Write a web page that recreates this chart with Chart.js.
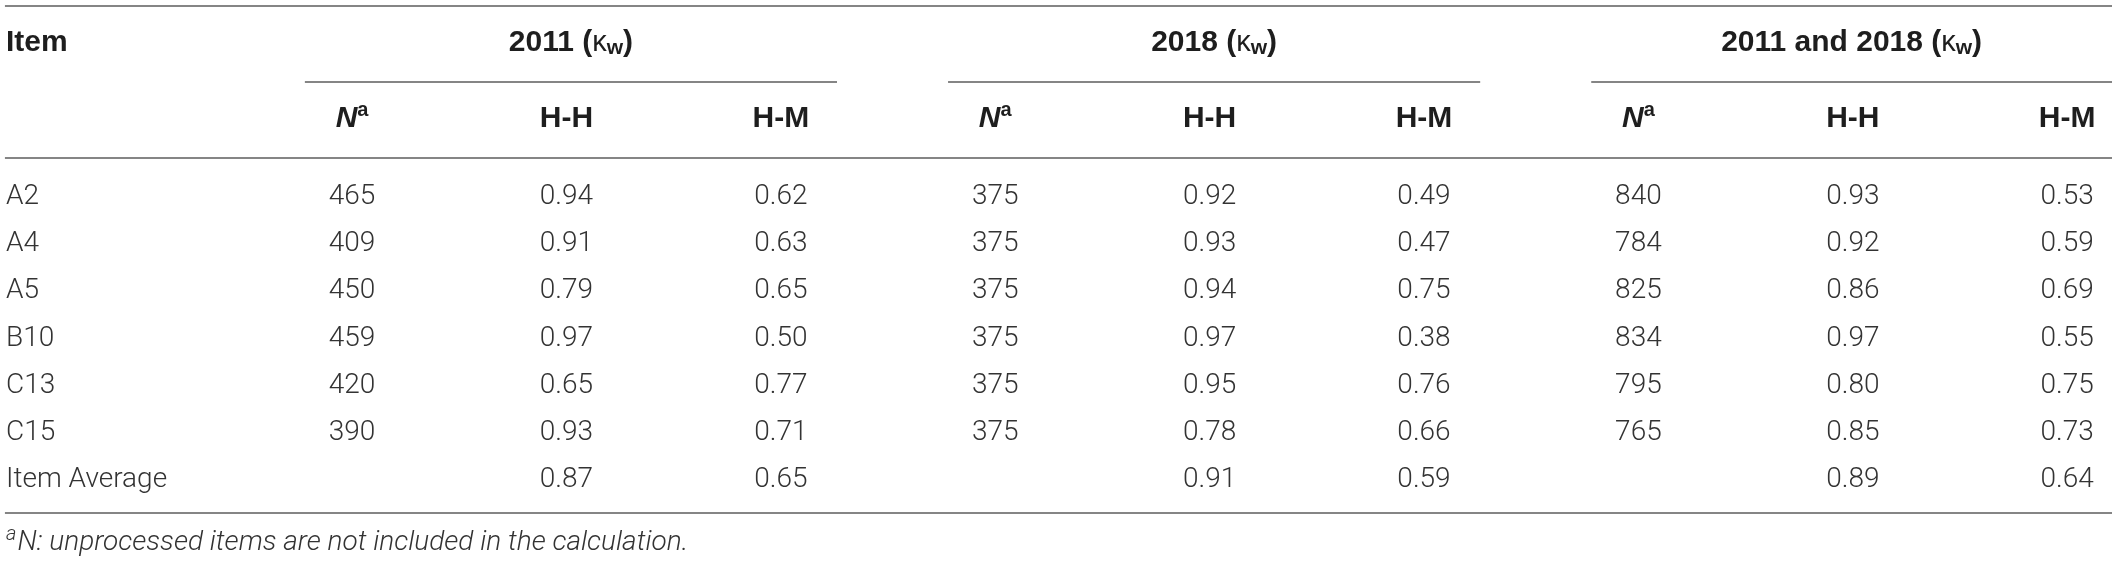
<!DOCTYPE html>
<html>
<head>
<meta charset="utf-8">
<script src="https://cdn.jsdelivr.net/npm/chart.js@4.4.1/dist/chart.umd.min.js"></script>
<style>
html,body{margin:0;padding:0;background:#fff;}
#wrap{width:2118px;height:563px;}
</style>
</head>
<body>
<div id="wrap"><canvas id="c" width="2118" height="563"></canvas></div>
<script>
// ---- data ----
const items   = ['A2','A4','A5','B10','C13','C15','Item Average'];
const n2011   = [465,409,450,459,420,390,null];
const hh2011  = [0.94,0.91,0.79,0.97,0.65,0.93,0.87];
const hm2011  = [0.62,0.63,0.65,0.50,0.77,0.71,0.65];
const n2018   = [375,375,375,375,375,375,null];
const hh2018  = [0.92,0.93,0.94,0.97,0.95,0.78,0.91];
const hm2018  = [0.49,0.47,0.75,0.38,0.76,0.66,0.59];
const nBoth   = [840,784,825,834,795,765,null];
const hhBoth  = [0.93,0.92,0.86,0.97,0.80,0.85,0.89];
const hmBoth  = [0.53,0.59,0.69,0.55,0.75,0.73,0.64];
const groupLabels = ['2011','2018','2011 and 2018'];
const subLabels   = ['N','H-H','H-M'];
const itemHeader  = 'Item';
const footnoteText = 'N: unprocessed items are not included in the calculation.';

// ---- layout (scale units: x = column index, y = row index) ----
const ITEM_X = -1.614;
const ROW_TOP_RULE = -4.047, ROW_GROUP = -3.27, ROW_GROUP_RULE = -2.436,
      ROW_SUB = -1.66, ROW_HEAD_RULE = -0.826, ROW_BOTTOM_RULE = 6.69, ROW_FOOT = 7.33;
const RULE_X0 = -1.619, RULE_X1 = 8.209;
const GROUP_L = -0.22, GROUP_R = 2.262;

const FAM_BODY = 'Roboto, "Liberation Sans", Arial, sans-serif';
const FAM_HEAD = '"Liberation Sans", Arial, sans-serif';
const BODY_FONT = '300 28px ' + FAM_BODY;
const BOLD = 'bold 30px ' + FAM_HEAD;
const BODY_COLOR = '#333333';
const HEAD_COLOR = '#1e1e1e';
const RULE_COLOR = '#858585';

const columns = [n2011,hh2011,hm2011,n2018,hh2018,hm2018,nBoth,hhBoth,hmBoth];
const datasets = [{
  label:'Item',
  data: items.map((t,i)=>({x:ITEM_X,y:i,txt:t})),
  align:'left', pointRadius:0
}];
columns.forEach((col,k)=>{
  datasets.push({
    label:'col'+k,
    data: col.map((v,i)=>({x:k,y:i,txt: v==null ? '' : (k%3===0 ? String(v) : v.toFixed(2))})),
    align:'center', pointRadius:0
  });
});

const tablePlugin = {
  id:'table',
  afterDatasetsDraw(chart){
    const ctx = chart.ctx, xs = chart.scales.x, ys = chart.scales.y;
    ctx.save();
    // rules
    ctx.strokeStyle = RULE_COLOR; ctx.lineWidth = 2;
    const hline = (x0,x1,r)=>{
      const y = Math.round(ys.getPixelForValue(r));
      ctx.beginPath(); ctx.moveTo(xs.getPixelForValue(x0),y); ctx.lineTo(xs.getPixelForValue(x1),y); ctx.stroke();
    };
    hline(RULE_X0,RULE_X1,ROW_TOP_RULE);
    hline(RULE_X0,RULE_X1,ROW_HEAD_RULE);
    hline(RULE_X0,RULE_X1,ROW_BOTTOM_RULE);
    groupLabels.forEach((g,gi)=>{
      hline(gi*3+GROUP_L, Math.min(gi*3+GROUP_R, RULE_X1), ROW_GROUP_RULE);
    });

    // body cells
    ctx.textBaseline = 'middle';
    chart.data.datasets.forEach((ds,di)=>{
      const meta = chart.getDatasetMeta(di);
      ctx.font = BODY_FONT; ctx.fillStyle = BODY_COLOR;
      ctx.textAlign = ds.align;
      meta.data.forEach((el,i)=>{
        const t = ds.data[i].txt;
        if(t) ctx.fillText(t, el.x, el.y);
      });
    });

    // headers
    ctx.fillStyle = HEAD_COLOR;
    ctx.font = BOLD; ctx.textAlign = 'left';
    ctx.fillText(itemHeader, xs.getPixelForValue(ITEM_X), ys.getPixelForValue(ROW_GROUP));

    const drawParts = (parts, cx, cy)=>{
      let w = 0;
      parts.forEach(p=>{ctx.font=p[1]; w += ctx.measureText(p[0]).width;});
      let x = cx - w/2;
      ctx.textAlign = 'left';
      parts.forEach(p=>{ctx.font=p[1]; ctx.fillText(p[0], x, cy + p[2]); x += ctx.measureText(p[0]).width;});
    };
    const kFont = '29px ' + FAM_HEAD;
    const subW = 'bold 21px ' + FAM_HEAD;
    groupLabels.forEach((g,gi)=>{
      const cx = (xs.getPixelForValue(gi*3+GROUP_L) + xs.getPixelForValue(Math.min(gi*3+GROUP_R,RULE_X1)))/2;
      const cy = ys.getPixelForValue(ROW_GROUP);
      drawParts([[g+' (',BOLD,0],['\u03BA',kFont,0],['w',subW,6],[')',BOLD,0]], cx, cy);
    });
    const nFont = 'italic bold 30px ' + FAM_HEAD;
    const supFont = 'bold 20px ' + FAM_HEAD;
    for(let k=0;k<9;k++){
      const cx = xs.getPixelForValue(k), cy = ys.getPixelForValue(ROW_SUB);
      const lab = subLabels[k%3];
      if(lab==='N'){
        drawParts([['N',nFont,0],['a',supFont,-8]], cx, cy);
      } else {
        ctx.font = BOLD; ctx.textAlign='center'; ctx.fillText(lab, cx, cy);
      }
    }

    // footnote
    ctx.fillStyle = BODY_COLOR; ctx.textAlign='left';
    let fx = xs.getPixelForValue(ITEM_X), fy = ys.getPixelForValue(ROW_FOOT);
    ctx.font = 'italic 300 20px ' + FAM_BODY;
    ctx.fillText('a', fx, fy-8); fx += ctx.measureText('a').width + 1;
    ctx.font = 'italic 300 28px ' + FAM_BODY;
    ctx.fillText(footnoteText, fx, fy);
    ctx.restore();
  }
};

new Chart(document.getElementById('c'), {
  type:'scatter',
  data:{datasets},
  options:{
    responsive:false, animation:false, devicePixelRatio:1,
    layout:{padding:0},
    plugins:{legend:{display:false}, tooltip:{enabled:false}},
    elements:{point:{radius:0, hoverRadius:0}},
    events:[],
    scales:{
      x:{type:'linear', display:false, min:-1.642, max:8.237},
      y:{type:'linear', display:false, reverse:true, min:-4.174, max:7.754}
    }
  },
  plugins:[tablePlugin]
});
</script>
</body>
</html>
